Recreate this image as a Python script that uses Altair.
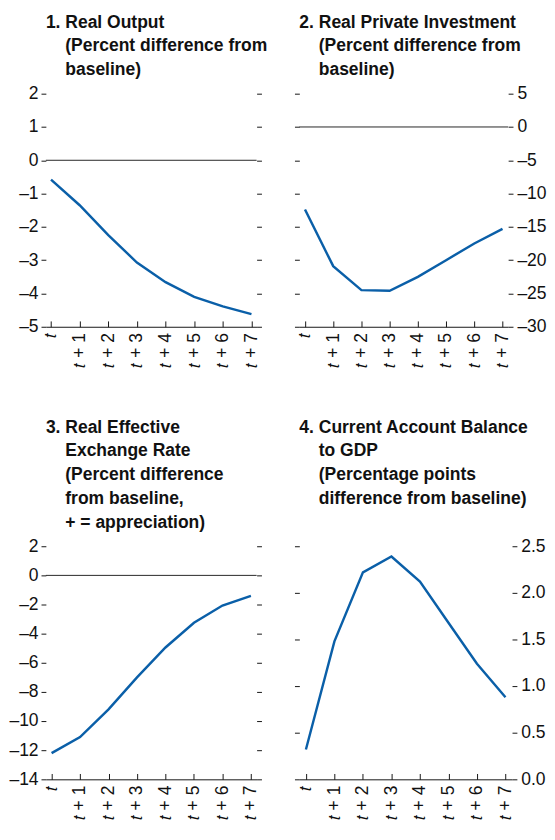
import altair as alt
import pandas as pd

periods = ["t", "t + 1", "t + 2", "t + 3", "t + 4", "t + 5", "t + 6", "t + 7"]
real_output = [-0.58, -1.35, -2.25, -3.07, -3.66, -4.10, -4.39, -4.62]
real_investment = [-12.4, -20.9, -24.5, -24.6, -22.5, -20.0, -17.5, -15.3]
reer = [-12.2, -11.1, -9.2, -7.0, -4.95, -3.25, -2.07, -1.4]
current_account = [0.32, 1.48, 2.22, 2.39, 2.12, 1.68, 1.24, 0.88]

IND = "\u200b" + "\u00a0" * 4
title1 = ["1. Real Output", IND + "(Percent difference from", IND + "baseline)"]
title2 = ["2. Real Private Investment", IND + "(Percent difference from", IND + "baseline)"]
title3 = ["3. Real Effective", IND + "Exchange Rate", IND + "(Percent difference",
          IND + "from baseline,", IND + "+ = appreciation)"]
title4 = ["4. Current Account Balance", IND + "to GDP", IND + "(Percentage points",
          IND + "difference from baseline)"]

ticks1 = [-5, -4, -3, -2, -1, 0, 1, 2]
ticks2 = [-30, -25, -20, -15, -10, -5, 0, 5]
ticks3 = [-14, -12, -10, -8, -6, -4, -2, 0, 2]
ticks4 = [0.0, 0.5, 1.0, 1.5, 2.0, 2.5]

BLUE = "#0A5FA8"
FONT = "Liberation Sans, Arial, sans-serif"
H = 240
LH = 24.5
LFS = 18


def panel(values, title, ticks, fmt, side, width, pad, zero_line, toff):
    df = pd.DataFrame({"period": periods, "value": values})
    xs = alt.Scale(domain=periods, padding=pad)
    ys = alt.Scale(domain=[ticks[0], ticks[-1]], nice=False, zero=False)
    other = "right" if side == "left" else "left"
    line = alt.Chart(df).mark_line(color=BLUE, strokeWidth=2.5).encode(
        x=alt.X("period:O", scale=xs, sort=periods, title=None,
                axis=alt.Axis(orient="bottom", labelAngle=270, domain=False, ticks=False,
                              labelPadding=6, labelFontSize=LFS,
                              labelExpr="replace(datum.label, 't', '\U0001D461')")),
        y=alt.Y("value:Q", scale=ys, title=None,
                axis=alt.Axis(orient=side, values=ticks, domain=False, grid=False,
                              tickSize=5, labelPadding=4 if side == "right" else 3,
                              labelFontSize=LFS,
                              labelExpr="replace(format(datum.value, '%s'), /[-\u2212]/, '\u2013')" % fmt)),
    )
    frame = alt.Chart(df).mark_line(opacity=0).encode(
        x=alt.X("period:O", scale=xs, sort=periods, title=None,
                axis=alt.Axis(orient="top", offset=-H, labels=False, domain=True,
                              ticks=True, tickSize=6)),
        y=alt.Y("value:Q", scale=ys, title=None,
                axis=alt.Axis(orient=other, values=ticks, labels=False, domain=False,
                              grid=False, tickSize=5)),
    )
    layers = [frame]
    if zero_line:
        zdf = pd.DataFrame({"z": [0]})
        layers.append(alt.Chart(zdf).mark_rule(color="#222222", strokeWidth=1).encode(
            y=alt.Y("z:Q", scale=ys, axis=None)))
    layers.append(line)
    return alt.layer(*layers).resolve_axis(x="independent", y="independent").properties(
        width=width, height=H,
        title=alt.TitleParams(text=title, anchor="start", frame="group", fontSize=18,
                              font=FONT, fontWeight="bold", lineHeight=LH, offset=toff,
                              color="#111111"))


p1 = panel(real_output, title1, ticks1, "d", "left", 217, 0.18, True, 6)
p2 = panel(real_investment, title2, ticks2, "d", "right", 215, 0.2, True, 6)
p3 = panel(reer, title3, ticks3, "d", "left", 217, 0.2, True, 6)
p4 = panel(current_account, title4, ticks4, ".1f", "right", 219, 0.23, False, 6 + LH)

chart = alt.concat(p1, p2, p3, p4, columns=2, align="none",
                   spacing={"row": 53, "column": 26}).properties(
    padding={"top": -6, "left": 0, "right": 0, "bottom": 0}).configure_view(
    stroke=None).configure_axis(
    labelFont=FONT, labelColor="#111111", tickColor="#111111", domainColor="#111111",
    tickWidth=1, domainWidth=1)

chart.save("out.html", embed_options={"renderer": "svg", "actions": False})
